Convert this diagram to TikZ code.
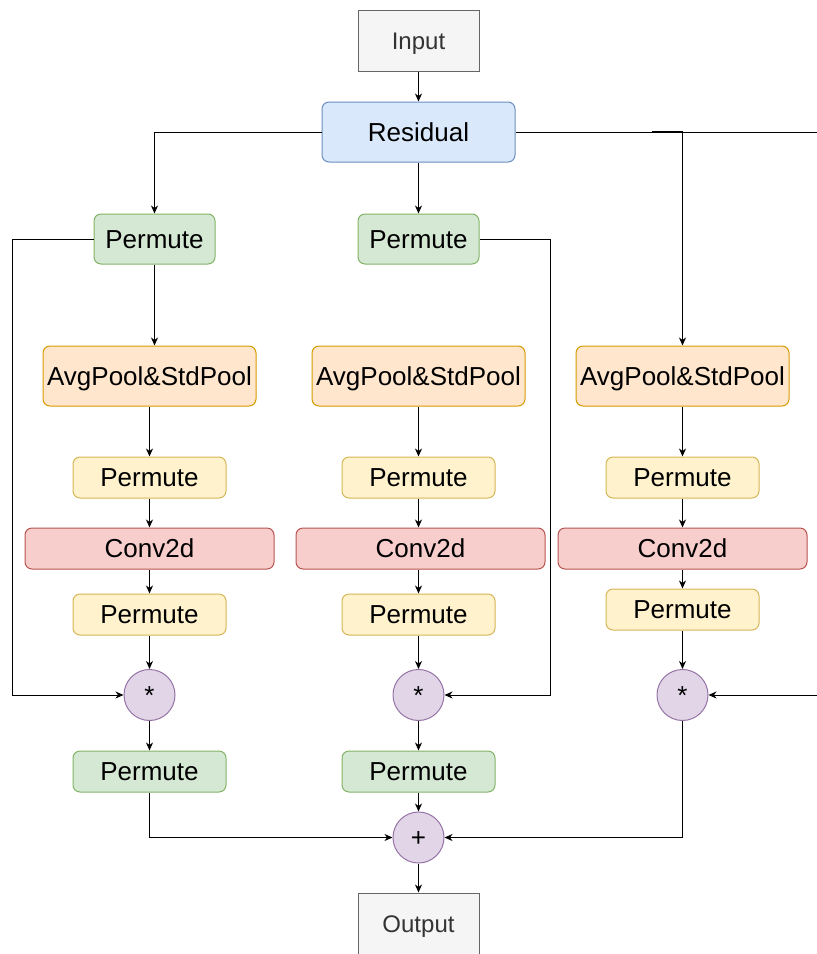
\documentclass[tikz,border=0pt]{standalone}
\usepackage{fontspec}
\setmainfont{Liberation Sans}
\usetikzlibrary{arrows.meta,calc}
\definecolor{inpfill}{HTML}{F5F5F5}\definecolor{inpline}{HTML}{666666}\definecolor{inptext}{HTML}{333333}
\definecolor{blufill}{HTML}{DAE8FC}\definecolor{bluline}{HTML}{6C8EBF}
\definecolor{grnfill}{HTML}{D5E8D4}\definecolor{grnline}{HTML}{82B366}
\definecolor{orgfill}{HTML}{FFE6CC}\definecolor{orgline}{HTML}{D79B00}
\definecolor{yelfill}{HTML}{FFF2CC}\definecolor{yelline}{HTML}{D6B656}
\definecolor{redfill}{HTML}{F8CECC}\definecolor{redline}{HTML}{B85450}
\definecolor{purfill}{HTML}{E1D5E7}\definecolor{purline}{HTML}{9673A6}
\tikzset{
  box/.style={draw, line width=1pt, inner sep=0pt, font=\fontsize{26}{30}\selectfont, text height=19pt, text depth=0.5pt},
  rbox/.style={box, rounded corners=7pt},
  iobox/.style={box, fill=inpfill, draw=inpline, text=inptext, minimum width=121pt, minimum height=61pt, font=\fontsize{24}{28}\selectfont, text height=17.5pt, text depth=0.5pt},
  resbox/.style={rbox, fill=blufill, draw=bluline, minimum width=193pt, minimum height=60pt},
  gperm/.style={rbox, fill=grnfill, draw=grnline, minimum width=121pt, minimum height=50pt},
  gperm2/.style={rbox, fill=grnfill, draw=grnline, minimum width=153pt, minimum height=41pt},
  pool/.style={rbox, fill=orgfill, draw=orgline, minimum width=213pt, minimum height=60pt},
  yperm/.style={rbox, fill=yelfill, draw=yelline, minimum width=153pt, minimum height=41pt},
  conv/.style={rbox, fill=redfill, draw=redline, minimum width=249pt, minimum height=41pt},
  op/.style={box, circle, fill=purfill, draw=purline, minimum size=51pt},
  conn/.style={line width=1pt, -{Stealth[length=8pt,width=7pt,inset=2.5pt]}},
  plain/.style={line width=1pt}
}
\begin{document}
\begin{tikzpicture}[x=1pt,y=-1pt]
\useasboundingbox (0,0) rectangle (817,954);
\clip (0,0) rectangle (817,954);
\node[iobox] (inp) at (418.5,40.5) {Input};
\node[resbox] (res) at (418.5,132) {Residual};
\node[gperm] (pg1) at (154.5,239) {Permute};
\node[gperm] (pg2) at (418.5,239) {Permute};
\node[pool] (ap1) at (149.5,376) {AvgPool\&StdPool};
\node[pool] (ap2) at (418.5,376) {AvgPool\&StdPool};
\node[pool] (ap3) at (682.5,376) {AvgPool\&StdPool};
\node[yperm] (py1) at (149.5,477.5) {Permute};
\node[yperm] (py2) at (418.5,477.5) {Permute};
\node[yperm] (py3) at (682.5,477.5) {Permute};
\node[conv] (cv1) at (149.5,548.5) {Conv2d};
\node[conv] (cv2) at (420.5,548.5) {Conv2d};
\node[conv] (cv3) at (682.5,548.5) {Conv2d};
\node[yperm] (pz1) at (149.5,614.5) {Permute};
\node[yperm] (pz2) at (418.5,614.5) {Permute};
\node[yperm] (pz3) at (682.5,609.5) {Permute};
\node[op] (m1) at (149.5,695) {*};
\node[op] (m2) at (418.5,695) {*};
\node[op] (m3) at (682.5,695) {*};
\node[gperm2] (pb1) at (149.5,771.5) {Permute};
\node[gperm2] (pb2) at (418.5,771.5) {Permute};
\node[op] (plus) at (418.5,837.5) {+};
\node[iobox] (out) at (418.5,923.5) {Output};
\coordinate (redge) at (830,132);
\coordinate (redge2) at (830,695);
% top
\draw[conn] (inp) -- (res);
\draw[conn] (res.west) -| (pg1.north);
\draw[conn] (res) -- (pg2);
\draw[plain] (res.east) -- (redge) -- (redge2);
\draw[conn] (res.east -| ap3.north) -- (ap3.north);
\draw[line width=2pt] (652,132) -- (682.5,132);
% left column
\draw[conn] (pg1.south) -- (pg1.south |- ap1.north);
\draw[conn] (ap1) -- (py1);
\draw[conn] (py1) -- (cv1);
\draw[conn] (cv1) -- (pz1);
\draw[conn] (pz1) -- (m1);
\draw[conn] (m1) -- (pb1);
\draw[conn] (pg1.west) -- (12,239) -- (12,695) -- (m1.west);
\draw[conn] (pb1.south) |- (plus.west);
% middle column
\draw[conn] (ap2) -- (py2);
\draw[conn] (py2.south) -- (py2.south |- cv2.north);
\draw[conn] (cv2.south -| pz2.north) -- (pz2.north);
\draw[conn] (pz2) -- (m2);
\draw[conn] (m2) -- (pb2);
\draw[conn] (pb2) -- (plus);
\draw[conn] (pg2.east) -- (550,239) -- (550,695) -- (m2.east);
% right column
\draw[conn] (ap3) -- (py3);
\draw[conn] (py3) -- (cv3);
\draw[conn] (cv3) -- (pz3);
\draw[conn] (pz3) -- (m3);
\draw[conn] (redge2) -- (m3.east);
\draw[conn] (m3.south) |- (plus.east);
% output
\draw[conn] (plus) -- (out);
\end{tikzpicture}
\end{document}
